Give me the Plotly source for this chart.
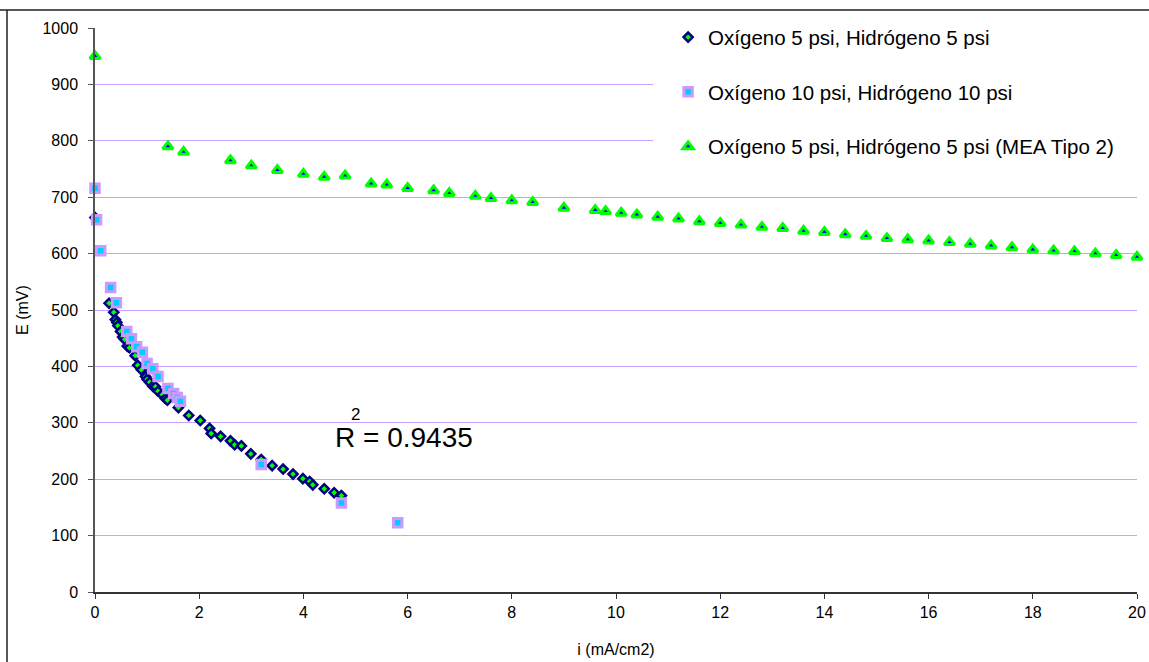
import plotly.graph_objects as go

# ---- data ----
i_5psi = [0.0, 0.27, 0.36, 0.39, 0.42, 0.44, 0.49, 0.53, 0.57, 0.62, 0.66, 0.77, 0.82, 0.89,
          0.97, 1.00, 1.05, 1.11, 1.16, 1.21, 1.29, 1.35, 1.39, 1.60, 1.80, 2.02, 2.20, 2.23,
          2.41, 2.60, 2.68, 2.81, 2.99, 3.19, 3.40, 3.61, 3.80, 3.99, 4.12, 4.18, 4.40, 4.59, 4.73]
E_5psi = [664, 512, 496, 483, 478, 472, 462, 452, 448, 436, 433, 419, 402, 394,
          382, 377, 372, 365, 364, 356, 350, 343, 340, 327, 313, 304, 290, 281,
          276, 268, 261, 259, 245, 235, 224, 218, 209, 201, 196, 190, 183, 176, 171]

i_10psi = [0.0, 0.03, 0.11, 0.30, 0.41, 0.61, 0.70, 0.80, 0.91, 1.00, 1.11, 1.21, 1.40,
           1.51, 1.58, 1.64, 3.19, 4.73, 5.81]
E_10psi = [716, 660, 605, 540, 513, 462, 449, 435, 425, 405, 396, 382, 361,
           352, 345, 338, 226, 158, 123]

i_mea2 = [0.0, 1.4, 1.7, 2.6, 3.0, 3.5, 4.0, 4.4, 4.8, 5.3, 5.6, 6.0, 6.5, 6.8, 7.3, 7.6,
          8.0, 8.4, 9.0, 9.6, 9.8, 10.1, 10.4, 10.8, 11.2, 11.6, 12.0, 12.4, 12.8, 13.2,
          13.6, 14.0, 14.4, 14.8, 15.2, 15.6, 16.0, 16.4, 16.8, 17.2, 17.6, 18.0, 18.4,
          18.8, 19.2, 19.6, 20.0]
E_mea2 = [950, 790, 780, 765, 756, 748, 741, 736, 738, 724, 722, 716, 712, 707, 702, 698,
          694, 691, 681, 677, 675, 672, 669, 665, 662, 657, 654, 651, 647, 645,
          640, 638, 634, 631, 627, 625, 623, 620, 617, 614, 611, 607, 605,
          604, 600, 597, 594]

names = ["Oxígeno 5 psi, Hidrógeno 5 psi",
         "Oxígeno 10 psi, Hidrógeno 10 psi",
         "Oxígeno 5 psi, Hidrógeno 5 psi (MEA Tipo 2)"]

x_ticks = list(range(0, 21, 2))
y_ticks = list(range(0, 1001, 100))
r2_text = "R = 0.9435"

FONT = "Arial, Liberation Sans, sans-serif"
W, H = 1149, 662
ML, MR, MT, MB = 95, 12, 28, 70

fig = go.Figure()
fig.add_trace(go.Scatter(
    x=i_5psi, y=E_5psi, mode="markers", name=names[0], legendgroup="a",
    cliponaxis=False,
    marker=dict(symbol="diamond", size=7, color="#00ff00",
                line=dict(color="#000080", width=2.5))))
fig.add_trace(go.Scatter(
    x=i_10psi, y=E_10psi, mode="markers", name=names[1], legendgroup="b",
    cliponaxis=False,
    marker=dict(symbol="square", size=8.5, color="#00ccff",
                line=dict(color="#cc99ff", width=3))))
fig.add_trace(go.Scatter(
    x=i_mea2, y=E_mea2, mode="markers", name=names[2], legendgroup="c",
    cliponaxis=False,
    marker=dict(symbol="triangle-up", size=9, color="#0000ff",
                line=dict(color="#00ff00", width=3))))

# R^2 label
fig.add_annotation(x=4.57, y=274, xref="x", yref="y", text=r2_text, showarrow=False,
                   xanchor="left", yanchor="middle",
                   font=dict(family=FONT, size=28, color="black"))
fig.add_annotation(x=5.0, y=314, xref="x", yref="y", text="2", showarrow=False,
                   xanchor="center", yanchor="middle",
                   font=dict(family=FONT, size=17, color="black"))

# pixel -> paper helpers for decorations
pw = W - ML - MR
ph = H - MT - MB
def px2paper_x(px):
    return (px - ML) / pw
def py2paper_y(py):
    return (H - MB - py) / ph

# white legend area covering the gridlines
fig.add_shape(type="rect", xref="paper", yref="paper", layer="above",
              x0=px2paper_x(653), x1=px2paper_x(W - MR + 2),
              y0=py2paper_y(166), y1=py2paper_y(20),
              fillcolor="white", line=dict(width=0))
# outer frame lines (top and left)
fig.add_shape(type="line", xref="paper", yref="paper",
              x0=px2paper_x(0), x1=px2paper_x(W), y0=py2paper_y(10), y1=py2paper_y(10),
              line=dict(color="#222222", width=1.5))
fig.add_shape(type="line", xref="paper", yref="paper",
              x0=px2paper_x(7), x1=px2paper_x(7), y0=py2paper_y(10), y1=py2paper_y(H),
              line=dict(color="#222222", width=1.5))

fig.update_layout(
    width=W, height=H,
    margin=dict(l=ML, r=MR, t=MT, b=MB, autoexpand=False),
    paper_bgcolor="white", plot_bgcolor="white",
    font=dict(family=FONT, size=16, color="black"),
    showlegend=True,
    legend=dict(x=0.550, y=1.019, xanchor="left", yanchor="top",
                bgcolor="rgba(255,255,255,0)", borderwidth=0,
                font=dict(family=FONT, size=20.5, color="black"),
                traceorder="grouped", tracegroupgap=25),
    xaxis=dict(range=[0, 20], tickvals=x_ticks, ticktext=[str(v) for v in x_ticks],
               automargin=False,
               showgrid=False, zeroline=False, showline=True, linecolor="#333333",
               linewidth=1.5, ticks="outside", ticklen=5, tickcolor="#333333",
               tickfont=dict(size=16),
               title=dict(text="i (mA/cm2)", font=dict(size=16), standoff=24)),
    yaxis=dict(range=[0, 1000], tickvals=y_ticks, ticktext=[str(v) for v in y_ticks],
               automargin=False,
               showgrid=True, gridcolor="#c8a0ff", gridwidth=1, zeroline=False,
               showline=True, linecolor="#555555", linewidth=1.5,
               ticks="outside", ticklen=5, tickcolor="#555555",
               tickfont=dict(size=16), ticklabelstandoff=7,
               title=dict(text="E (mV)", font=dict(size=16), standoff=10)),
)

fig.write_html("out.html")
